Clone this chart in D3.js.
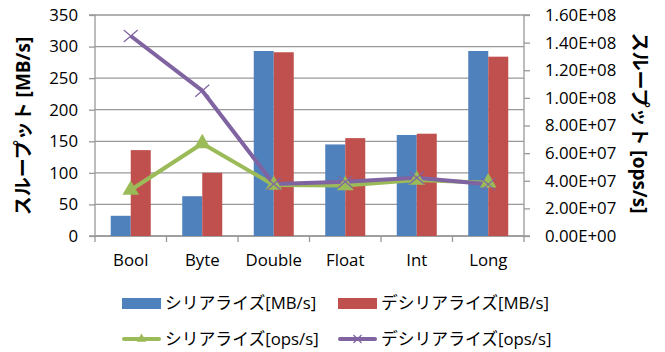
<!DOCTYPE html>
<html><head><meta charset="utf-8">
<script src="https://cdn.jsdelivr.net/npm/d3@7/dist/d3.min.js"></script>
<style>body{margin:0;background:#fff}svg{display:block;font-family:"Open Sans","Noto Sans CJK JP",sans-serif}</style>
</head><body><svg id="c" width="665" height="352"></svg>
<script>
const categories = ["Bool","Byte","Double","Float","Int","Long"];
const serMB = [32, 63, 293, 145, 160, 293];
const deserMB = [136, 100, 291, 155, 162, 284];
const serOps = [3.33e7, 6.7e7, 3.69e7, 3.66e7, 4.05e7, 3.86e7];
const deserOps = [1.448e8, 1.052e8, 3.76e7, 3.93e7, 4.22e7, 3.74e7];
const leftTicks = [0,50,100,150,200,250,300,350];
const rightTicks = [0,2e7,4e7,6e7,8e7,1e8,1.2e8,1.4e8,1.6e8];
const seriesNames = ["シリアライズ[MB/s]","デシリアライズ[MB/s]","シリアライズ[ops/s]","デシリアライズ[ops/s]"];
const colors = ["#4F81BD","#C0504D","#9BBB59","#8064A2"];

const svg = d3.select("#c");
const L=95, R=524, T=15, B=236;
const x = d3.scaleBand().domain(categories).range([L,R]);
const yL = d3.scaleLinear().domain([0,350]).range([B,T]);
const yR = d3.scaleLinear().domain([0,1.6e8]).range([B,T]);
const grid="#999";
const fs="16.8px";

svg.append("g").selectAll("line").data(leftTicks).join("line")
  .attr("x1",L).attr("x2",R).attr("y1",d=>yL(d)).attr("y2",d=>yL(d))
  .attr("stroke",grid).attr("stroke-width",1.3);

const axL = svg.append("g").attr("transform",`translate(${L},0)`)
  .call(d3.axisLeft(yL).tickValues(leftTicks).tickSize(6).tickPadding(11));
const axR = svg.append("g").attr("transform",`translate(${R},0)`)
  .call(d3.axisRight(yR).tickValues(rightTicks).tickSize(6).tickPadding(15).tickFormat(d=>{
    const s=d3.format(".2e")(d).toUpperCase();
    return s.replace(/E([+-])(\d)$/,"E$10$2");
  }));
const axB = svg.append("g").attr("transform",`translate(0,${B})`)
  .call(d3.axisBottom(x).tickSize(0).tickPadding(18));
svg.append("g").selectAll("line").data(d3.range(categories.length+1)).join("line")
  .attr("x1",i=>L+i*x.bandwidth()).attr("x2",i=>L+i*x.bandwidth())
  .attr("y1",B).attr("y2",B+6).attr("stroke",grid).attr("stroke-width",1.3);
[axL,axR,axB].forEach(a=>{
  a.selectAll("path,line").attr("stroke",grid).attr("stroke-width",1.3);
  a.selectAll("text").attr("fill","#000").style("font-size",fs).style("font-family","'Open Sans',sans-serif");
});
axL.select(".domain").attr("d",`M-6,${T}H0V${B}H-6`);
axR.select(".domain").attr("d",`M6,${T}H0V${B}H6`);
axB.select(".domain").attr("d",`M${L},0H${R}`);

const bw = 20;
svg.append("g").selectAll("rect").data(serMB).join("rect")
  .attr("x",(d,i)=>x(categories[i])+x.bandwidth()/2-bw).attr("width",bw)
  .attr("y",d=>yL(d)).attr("height",d=>B-yL(d)).attr("fill",colors[0]);
svg.append("g").selectAll("rect").data(deserMB).join("rect")
  .attr("x",(d,i)=>x(categories[i])+x.bandwidth()/2).attr("width",bw)
  .attr("y",d=>yL(d)).attr("height",d=>B-yL(d)).attr("fill",colors[1]);

const cx = i=>x(categories[i])+x.bandwidth()/2;
const line = d3.line().x((d,i)=>cx(i)).y(d=>yR(d));
svg.append("path").datum(serOps).attr("d",line).attr("fill","none").attr("stroke",colors[2]).attr("stroke-width",4).attr("stroke-linejoin","round");
svg.append("path").datum(deserOps).attr("d",line).attr("fill","none").attr("stroke",colors[3]).attr("stroke-width",4).attr("stroke-linejoin","round");
const tri = d3.symbol().type(d3.symbolTriangle).size(120);
svg.append("g").selectAll("path").data(serOps).join("path")
  .attr("d",tri).attr("transform",(d,i)=>`translate(${cx(i)},${yR(d)})`).attr("fill",colors[2]);
svg.append("g").selectAll("path").data(deserOps).join("path")
  .attr("d","M-7,-6L7,6M-7,6L7,-6").attr("transform",(d,i)=>`translate(${cx(i)},${yR(d)})`)
  .attr("stroke",colors[3]).attr("stroke-width",1.2).attr("fill","none");

svg.append("text").attr("transform","translate(23,126) rotate(-90)").attr("text-anchor","middle")
  .attr("dy","0.35em").style("font-size","19px").style("font-weight","bold").text("スループット [MB/s]");
svg.append("text").attr("transform","translate(640,123) rotate(90)").attr("text-anchor","middle")
  .attr("dy","0.35em").style("font-size","19px").style("font-weight","bold").text("スループット [ops/s]");

const leg = [
  {x:122,y:303,i:0,type:"bar"},{x:338,y:303,i:1,type:"bar"},
  {x:122,y:339,i:2,type:"line"},{x:338,y:339,i:3,type:"line"}];
leg.forEach(l=>{
  const g=svg.append("g");
  if(l.type==="bar"){
    g.append("rect").attr("x",l.x).attr("y",l.y-5).attr("width",39).attr("height",11).attr("fill",colors[l.i]);
  } else {
    g.append("line").attr("x1",l.x+2).attr("x2",l.x+37).attr("y1",l.y).attr("y2",l.y).attr("stroke",colors[l.i]).attr("stroke-width",4).attr("stroke-linecap","round");
    if(l.i===2) g.append("path").attr("d",d3.symbol().type(d3.symbolTriangle).size(40)).attr("transform",`translate(${l.x+19.5},${l.y})`).attr("fill",colors[2]);
    else g.append("path").attr("d","M-4,-4L4,4M-4,4L4,-4").attr("transform",`translate(${l.x+19.5},${l.y})`).attr("stroke",colors[3]).attr("stroke-width",1.2);
  }
  g.append("text").attr("x",l.x+43).attr("y",l.y).attr("dy","0.35em").style("font-size",fs).text(seriesNames[l.i]);
});
</script></body></html>
